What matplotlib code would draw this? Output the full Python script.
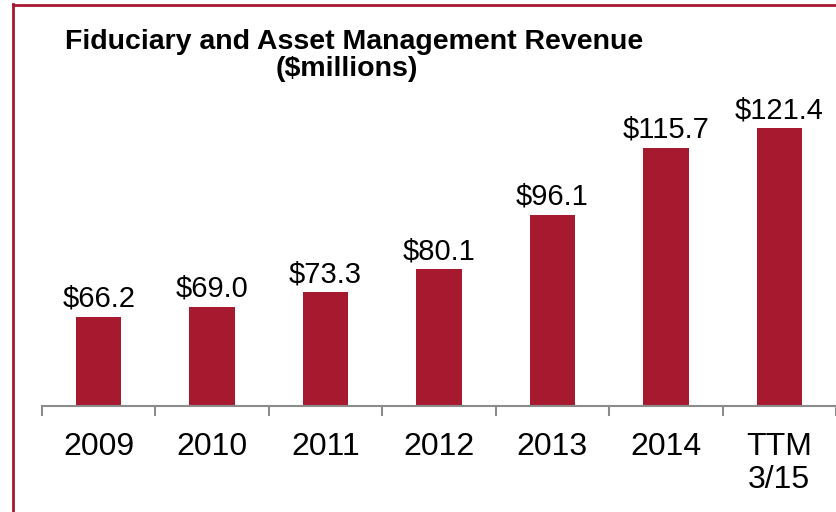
import matplotlib
matplotlib.use("Agg")
import matplotlib.pyplot as plt
from matplotlib.lines import Line2D

categories = ["2009", "2010", "2011", "2012", "2013", "2014", "TTM\n3/15"]
values = [66.2, 69.0, 73.3, 80.1, 96.1, 115.7, 121.4]
value_labels = ["$66.2", "$69.0", "$73.3", "$80.1", "$96.1", "$115.7", "$121.4"]

RED = "#A6192E"
GREY = "#8C8C8C"
plt.rcParams['font.family'] = ['Liberation Sans', 'DejaVu Sans']

fig = plt.figure(figsize=(8.36, 5.12), dpi=100)
W, H = 836, 512
ax_left, ax_right = 42, 836
ax_bottom_px = 406
ymin, ymax = 40, 140
ppu = 3.41
ax_top_px = ax_bottom_px - (ymax - ymin) * ppu
ax = fig.add_axes([ax_left / W, (H - ax_bottom_px) / H, (ax_right - ax_left) / W,
                   (ax_bottom_px - ax_top_px) / H])

x = list(range(len(categories)))
bars = ax.bar(x, values, width=0.40, color=RED, zorder=2)
ax.set_xlim(-0.5, len(categories) - 0.5)
ax.set_ylim(ymin, ymax)

for xi, v, lab in zip(x, values, value_labels):
    ax.annotate(lab, (xi, v), xytext=(0, 3), textcoords="offset points",
                ha="center", va="bottom", fontsize=21, color="black")

for s in ["top", "right", "left"]:
    ax.spines[s].set_visible(False)
ax.spines["bottom"].set_color(GREY)
ax.spines["bottom"].set_linewidth(1.5)
ax.set_yticks([])
ax.set_xticks([i - 0.5 for i in range(len(categories) + 1)])
ax.set_xticklabels([])
ax.tick_params(axis="x", which="major", length=7, width=1.5, color=GREY, direction="out")
ax.set_xticks(x, minor=True)
ax.set_xticklabels(categories, minor=True, fontsize=23, linespacing=1.1, va="top")
ax.tick_params(axis="x", which="minor", length=0, pad=19)

fig.text(354 / W, 1 - 49 / H, "Fiduciary and Asset Management Revenue",
         ha="center", va="baseline", fontsize=20.5, fontweight="bold")
fig.text(347 / W, 1 - 76 / H, "($millions)",
         ha="center", va="baseline", fontsize=20.5, fontweight="bold")

fig.add_artist(Line2D([13 / W, 13 / W], [0, 1 - 4 / H], color=RED, linewidth=2,
                      transform=fig.transFigure))
fig.add_artist(Line2D([13 / W, 1], [1 - 5 / H, 1 - 5 / H], color=RED, linewidth=2,
                      transform=fig.transFigure))

fig.savefig("out.png", dpi=100)
